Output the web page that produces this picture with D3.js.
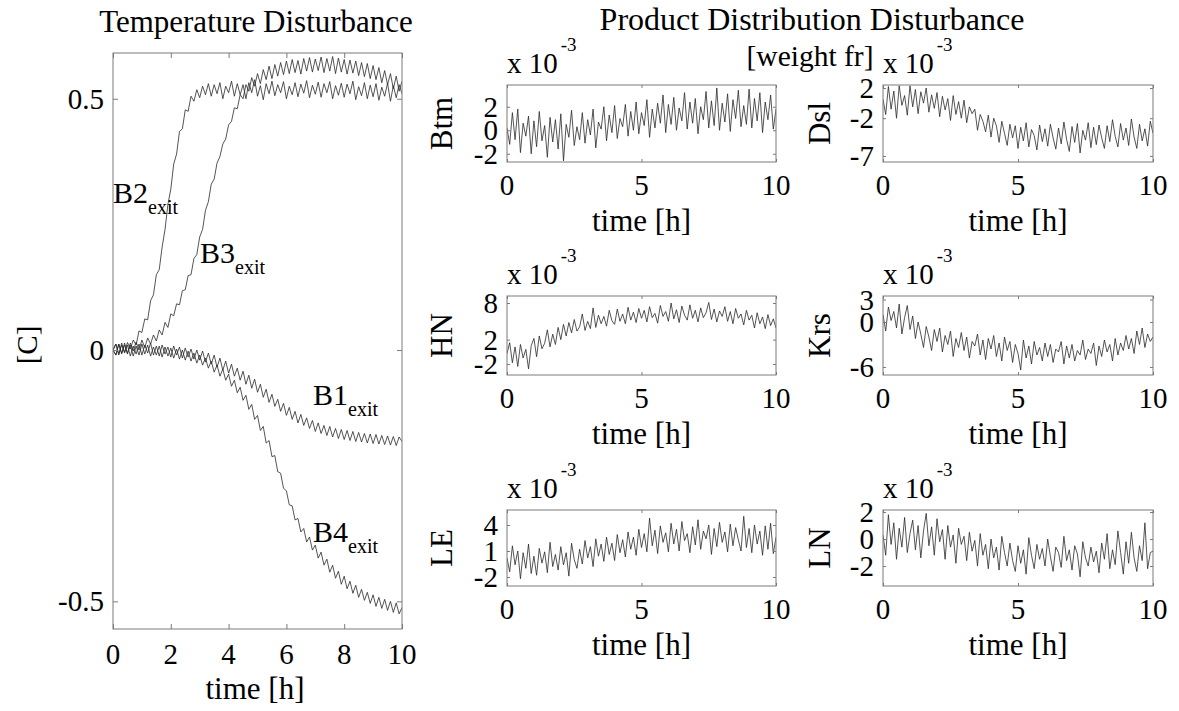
<!DOCTYPE html>
<html><head><meta charset="utf-8">
<script src="https://cdn.jsdelivr.net/npm/d3@7"></script>
<style>
html,body{margin:0;padding:0;background:#fff;}
svg{display:block;}
text{font-family:"Liberation Serif","Times New Roman",serif;fill:#000;}
</style></head>
<body>
<svg id="chart" width="1179" height="711"></svg>
<script>
// ---------- DATA ----------
const time = d3.range(101).map(i => i / 10); // sample times [h], 0..10 step 0.1

const xTicksLeft = [0, 2, 4, 6, 8, 10];
const yTicksLeft = [-0.5, 0, 0.5];
const xTicksSmall = [0, 5, 10];

const B1exit = [0.000,0.012,-0.010,0.014,-0.006,0.010,-0.012,0.008,-0.008,0.012,
-0.010,0.010,-0.006,0.014,-0.010,0.008,-0.012,0.010,-0.008,0.006,
-0.014,0.008,-0.010,0.006,-0.016,0.004,-0.014,0.002,-0.018,0.000,
-0.020,-0.002,-0.024,-0.006,-0.028,-0.010,-0.034,-0.016,-0.040,-0.022,
-0.046,-0.028,-0.052,-0.036,-0.060,-0.042,-0.068,-0.050,-0.076,-0.058,
-0.084,-0.068,-0.094,-0.078,-0.104,-0.088,-0.112,-0.098,-0.122,-0.106,
-0.130,-0.114,-0.138,-0.122,-0.145,-0.128,-0.150,-0.135,-0.156,-0.140,
-0.162,-0.145,-0.166,-0.150,-0.170,-0.152,-0.173,-0.156,-0.176,-0.158,
-0.178,-0.160,-0.180,-0.162,-0.182,-0.164,-0.183,-0.166,-0.185,-0.167,
-0.186,-0.168,-0.187,-0.170,-0.188,-0.171,-0.189,-0.172,-0.190,-0.173,-0.182];

const B2exit = [0.000,0.012,-0.008,0.010,-0.004,0.015,0.002,0.020,0.010,0.038,
0.035,0.062,0.060,0.098,0.110,0.150,0.160,0.205,0.240,0.290,
0.320,0.370,0.390,0.435,0.440,0.478,0.475,0.505,0.495,0.518,
0.502,0.525,0.508,0.530,0.505,0.528,0.510,0.532,0.500,0.525,
0.512,0.535,0.505,0.530,0.508,0.528,0.500,0.532,0.512,0.538,
0.505,0.526,0.498,0.530,0.510,0.535,0.506,0.528,0.512,0.534,
0.500,0.525,0.508,0.532,0.504,0.529,0.511,0.536,0.502,0.527,
0.509,0.533,0.503,0.530,0.512,0.534,0.500,0.526,0.507,0.531,
0.503,0.529,0.510,0.535,0.498,0.524,0.506,0.532,0.500,0.527,
0.504,0.530,0.497,0.523,0.505,0.531,0.495,0.526,0.502,0.528,0.510];

const B3exit = [0.000,-0.010,0.012,-0.006,0.010,-0.008,0.014,-0.002,0.016,0.000,
0.020,0.005,0.024,0.012,0.030,0.018,0.040,0.030,0.055,0.045,
0.072,0.068,0.092,0.090,0.118,0.120,0.148,0.150,0.182,0.190,
0.225,0.240,0.278,0.295,0.330,0.340,0.372,0.385,0.410,0.420,
0.448,0.455,0.482,0.480,0.508,0.500,0.528,0.515,0.542,0.525,
0.550,0.530,0.558,0.538,0.565,0.540,0.568,0.545,0.572,0.548,
0.575,0.550,0.578,0.552,0.576,0.549,0.580,0.555,0.582,0.553,
0.579,0.556,0.583,0.552,0.580,0.555,0.584,0.550,0.581,0.553,
0.578,0.549,0.577,0.551,0.575,0.546,0.572,0.544,0.570,0.540,
0.566,0.538,0.562,0.532,0.556,0.528,0.550,0.520,0.545,0.515,0.535];

const B4exit = [0.000,-0.010,0.012,-0.008,0.014,-0.006,0.010,-0.012,0.008,-0.010,
0.012,-0.008,0.010,-0.012,0.006,-0.010,0.008,-0.014,0.006,-0.012,
0.004,-0.016,0.002,-0.018,0.000,-0.020,-0.002,-0.022,-0.006,-0.026,
-0.010,-0.030,-0.016,-0.036,-0.022,-0.044,-0.030,-0.052,-0.038,-0.060,
-0.048,-0.072,-0.060,-0.085,-0.074,-0.100,-0.090,-0.118,-0.108,-0.138,
-0.130,-0.160,-0.152,-0.185,-0.180,-0.212,-0.210,-0.242,-0.245,-0.275,
-0.280,-0.308,-0.310,-0.338,-0.335,-0.362,-0.355,-0.382,-0.372,-0.398,
-0.388,-0.414,-0.402,-0.428,-0.416,-0.442,-0.428,-0.454,-0.440,-0.466,
-0.450,-0.475,-0.460,-0.484,-0.468,-0.492,-0.476,-0.498,-0.482,-0.504,
-0.487,-0.510,-0.492,-0.514,-0.496,-0.518,-0.500,-0.522,-0.503,-0.525,-0.512];

// product distribution disturbances, in units of 1e-3 weight fraction
const Btm = [0.2,-1.2,1.5,-0.8,1.8,-1.9,0.6,-0.5,1.2,-2.0,
0.8,-1.4,1.6,-0.9,0.4,-2.3,1.1,-1.0,0.9,-1.6,
1.4,-2.6,0.5,-0.6,1.7,-1.3,0.3,-0.8,1.5,-1.1,
0.9,-0.4,1.8,-1.5,0.7,0.1,2.0,-0.9,1.3,-0.2,
2.1,-0.7,1.0,0.3,2.2,-0.5,1.6,0.0,2.4,-0.3,
1.5,0.4,2.6,-0.6,1.8,0.2,2.3,0.6,3.0,-0.2,
2.2,0.5,2.8,0.0,1.9,0.8,3.2,0.1,2.4,0.6,
2.7,-0.3,2.0,0.9,3.3,0.2,2.5,0.4,3.6,0.0,
2.3,0.7,3.1,-0.1,2.6,1.0,3.4,0.3,2.1,0.5,
3.5,0.2,2.7,0.8,3.2,-0.2,2.4,0.9,3.0,0.1,1.8];

const Dsl = [0.5,-1.5,2.2,-0.8,1.6,-2.0,2.3,-0.3,1.0,-1.6,
2.3,-0.5,1.8,-1.4,1.5,0.0,2.0,-1.2,1.1,-0.7,
1.4,-1.8,0.9,-0.9,0.6,-2.3,1.0,-1.5,0.2,-2.0,
0.4,-2.6,-0.5,-1.4,-0.8,-3.6,-1.5,-2.4,-3.8,-1.6,
-4.5,-2.0,-3.0,-5.2,-2.4,-4.0,-5.6,-2.8,-4.6,-3.0,
-6.0,-3.2,-5.0,-2.6,-5.8,-3.5,-4.3,-6.2,-2.9,-5.1,
-3.4,-5.7,-2.8,-4.6,-6.1,-3.3,-5.4,-2.5,-4.8,-6.4,
-3.1,-5.2,-2.7,-6.6,-3.6,-4.9,-2.6,-5.9,-3.2,-5.5,
-2.9,-4.6,-6.0,-3.0,-5.1,-2.2,-4.4,-5.8,-2.7,-4.9,
-3.3,-5.6,-2.1,-4.5,-6.0,-2.8,-5.0,-3.4,-5.7,-2.4,-4.0];

const HN = [-0.3,1.5,-1.8,0.8,-2.4,1.2,-1.0,0.4,-2.8,1.0,
2.2,-0.8,2.6,0.5,1.4,3.6,0.8,2.9,1.2,4.0,
2.0,4.5,2.6,4.8,3.1,5.3,3.4,4.1,6.2,3.5,
5.0,3.8,7.2,4.0,6.0,4.6,5.8,4.2,6.8,5.1,
4.5,7.0,5.0,6.2,4.6,7.3,5.2,6.5,4.8,7.1,
5.5,6.8,4.9,7.4,5.6,6.3,4.7,7.6,5.8,6.6,
5.0,8.0,5.4,6.9,4.8,7.5,6.0,5.2,7.7,5.5,
6.8,4.9,7.2,5.6,6.4,8.1,5.3,7.0,4.9,6.7,
5.8,7.4,5.0,6.6,4.6,7.1,5.5,6.2,4.4,6.8,
5.2,6.0,3.9,6.4,4.6,5.7,3.8,6.1,4.3,5.4,3.9];

const Krs = [1.0,-1.2,2.0,0.2,1.4,-0.8,2.4,-1.6,0.6,2.2,
-1.0,0.8,-2.2,0.0,-1.6,-3.4,-0.6,-2.0,-3.8,-1.0,
-2.6,-0.8,-4.0,-1.8,-3.0,-1.2,-4.6,-2.2,-3.4,-1.4,
-3.8,-2.0,-4.8,-2.6,-3.2,-1.6,-4.4,-2.4,-5.0,-2.2,
-3.6,-1.8,-4.6,-2.8,-5.2,-2.0,-3.8,-2.6,-5.4,-3.0,
-4.2,-6.4,-2.4,-4.8,-3.2,-5.6,-2.6,-4.4,-3.4,-5.2,
-2.8,-4.6,-3.0,-5.4,-3.6,-4.0,-2.6,-5.6,-3.2,-4.8,
-3.0,-5.2,-3.8,-4.4,-2.4,-5.0,-3.6,-4.2,-2.8,-5.8,
-3.2,-4.6,-2.4,-4.0,-3.0,-5.2,-2.2,-4.4,-2.8,-3.8,
-1.8,-3.6,-2.2,-4.2,-1.2,-3.0,-0.8,-3.4,-1.6,-2.6,-2.0];

const LE = [0.2,-1.4,1.6,-0.6,1.0,-2.2,0.8,-1.0,1.8,-1.6,
0.4,-1.8,1.3,-0.4,0.9,-1.5,2.0,-0.8,0.6,-1.2,
1.5,-0.6,0.8,-1.9,1.9,0.0,-1.0,1.2,-0.5,2.2,
0.2,1.5,-0.8,2.4,0.4,1.8,-0.2,2.6,0.6,1.9,
-0.1,2.9,0.8,2.3,0.3,3.2,1.2,2.6,0.5,3.5,
1.4,3.0,0.9,4.8,1.6,3.4,0.7,3.9,2.0,3.1,
0.9,4.2,1.8,3.5,1.0,4.4,2.2,3.0,0.8,3.8,
1.7,4.6,1.2,3.3,2.4,4.0,0.6,3.6,1.5,4.3,
2.0,3.2,0.9,4.1,1.6,3.7,2.3,1.0,5.0,1.4,
3.6,0.8,4.0,1.8,3.3,0.5,3.9,1.2,4.2,0.7,2.6];

const LN = [0.3,-1.2,1.8,-0.4,1.2,-1.5,0.8,-0.6,1.6,-1.0,
0.4,1.4,-0.8,1.0,-1.4,0.6,1.9,-0.5,0.9,-1.2,
1.5,-0.2,0.7,-1.5,1.0,-0.6,0.3,-1.8,0.8,-0.4,
0.2,-1.6,0.5,-0.9,-0.1,-2.0,0.4,-1.2,-0.4,-2.2,
0.0,-1.4,-0.6,-2.3,0.2,-1.0,-2.0,-0.3,-1.6,-2.4,
-0.5,-1.8,-0.8,-2.6,0.1,-1.2,-2.2,-0.4,-1.5,-0.7,
-2.0,0.0,-1.3,-2.4,-0.6,-1.0,-2.1,0.2,-1.6,-0.8,
-2.3,-0.5,-1.1,-2.8,-0.2,-1.4,-2.0,-0.6,-1.7,-0.9,
-2.5,-0.3,-1.5,0.4,-2.2,-0.8,-1.9,0.6,-1.0,-2.6,
-0.2,-1.8,0.5,-1.4,-2.4,-0.5,-1.6,1.2,-2.2,-1.0,-0.9];

const smallNames = ["Btm", "Dsl", "HN", "Krs", "LE", "LN"];
const smallSeries = [Btm, Dsl, HN, Krs, LE, LN];
const smallYTicks = [[-2, 0, 2], [-7, -2, 2], [-2, 2, 8], [-6, 0, 3], [-2, 1, 4], [-2, 0, 2]];
const smallYDomains = [[-2.7, 3.85], [-7.8, 2.4], [-3.8, 9.15], [-7.07, 3.47], [-3.04, 5.73], [-3.48, 2.15]];

// ---------- LAYOUT ----------
const svg = d3.select("#chart");
const FS = 29;      // tick labels
const FL = 31;      // axis labels / titles
const boxColor = "#7a7a7a";
const lineColor = "#2a2a2a";

function drawAxesBox(g, x, y, xTicks, yTicks, tickLen) {
  const [x0, x1] = x.range();
  const [y0, y1] = y.range(); // y0 bottom, y1 top
  g.append("rect").attr("x", x0).attr("y", y1).attr("width", x1 - x0).attr("height", y0 - y1)
    .attr("fill", "none").attr("stroke", boxColor).attr("stroke-width", 1);
  const xb = d3.axisBottom(x).tickValues(xTicks).tickSize(-tickLen).tickFormat("");
  const xt = d3.axisTop(x).tickValues(xTicks).tickSize(-tickLen).tickFormat("");
  const yl = d3.axisLeft(y).tickValues(yTicks).tickSize(-tickLen).tickFormat("");
  const yr = d3.axisRight(y).tickValues(yTicks).tickSize(-tickLen).tickFormat("");
  [[xb, `translate(0,${y0})`], [xt, `translate(0,${y1})`], [yl, `translate(${x0},0)`], [yr, `translate(${x1},0)`]]
    .forEach(([ax, tr]) => {
      const a = g.append("g").attr("transform", tr).call(ax);
      a.select(".domain").remove();
      a.selectAll("line").attr("stroke", boxColor);
    });
}

function drawSeries(g, x, y, values, width) {
  const line = d3.line().x((d, i) => x(time[i])).y(d => y(d));
  g.append("path").datum(values).attr("d", line)
    .attr("fill", "none").attr("stroke", lineColor).attr("stroke-width", width);
}

// ----- left plot -----
{
  const g = svg.append("g");
  const x = d3.scaleLinear().domain([0, 10]).range([113, 402]);
  const y = d3.scaleLinear().domain([-0.555, 0.591]).range([629, 53]);
  svg.append("clipPath").attr("id", "clipL").append("rect")
    .attr("x", 113).attr("y", 53).attr("width", 289).attr("height", 576);
  const cg = g.append("g").attr("clip-path", "url(#clipL)");
  [B1exit, B2exit, B3exit, B4exit].forEach(s => drawSeries(cg, x, y, s, 0.8));
  drawAxesBox(g, x, y, xTicksLeft, yTicksLeft, 5);

  g.selectAll(".xl").data(xTicksLeft).join("text")
    .attr("x", d => x(d)).attr("y", 664).attr("text-anchor", "middle")
    .attr("font-size", FS).text(d => d);
  g.selectAll(".yl").data(yTicksLeft).join("text")
    .attr("x", 104).attr("y", d => y(d)).attr("text-anchor", "end")
    .attr("dominant-baseline", "central").attr("font-size", FS).text(d => d);
  g.append("text").attr("x", 255).attr("y", 699).attr("text-anchor", "middle")
    .attr("font-size", FL).text("time [h]");
  g.append("text").attr("transform", "translate(27,345) rotate(-90)")
    .attr("text-anchor", "middle").attr("dominant-baseline", "central")
    .attr("font-size", FS).text("[C]");
  g.append("text").attr("x", 256).attr("y", 32).attr("text-anchor", "middle")
    .attr("font-size", FL).text("Temperature Disturbance");

  const labels = [
    {name: "B2", x: 113, y: 203},
    {name: "B3", x: 200, y: 263},
    {name: "B1", x: 313, y: 405},
    {name: "B4", x: 313, y: 542}
  ];
  labels.forEach(l => {
    const t = g.append("text").attr("x", l.x).attr("y", l.y).attr("font-size", 30);
    t.append("tspan").text(l.name);
    t.append("tspan").attr("font-size", 20).attr("dy", 11).text("exit");
  });
}

// ----- small plots -----
svg.append("text").attr("x", 812).attr("y", 30).attr("text-anchor", "middle")
  .attr("font-size", 32).text("Product Distribution Disturbance");
svg.append("text").attr("x", 810).attr("y", 66).attr("text-anchor", "middle")
  .attr("font-size", 29.5).text("[weight fr]");

const cols = [[507, 776], [883, 1153]];
const rows = [[85, 162], [296, 375], [510, 586]];
const ylabX = [441, 819];

smallNames.forEach((name, k) => {
  const c = cols[k % 2], r = rows[Math.floor(k / 2)];
  const g = svg.append("g");
  const x = d3.scaleLinear().domain([0, 10]).range(c);
  const y = d3.scaleLinear().domain(smallYDomains[k]).range([r[1], r[0]]);
  const clipId = "clip" + k;
  svg.append("clipPath").attr("id", clipId).append("rect")
    .attr("x", c[0]).attr("y", r[0]).attr("width", c[1] - c[0]).attr("height", r[1] - r[0]);
  drawSeries(g.append("g").attr("clip-path", `url(#${clipId})`), x, y, smallSeries[k], 0.8);
  drawAxesBox(g, x, y, xTicksSmall, smallYTicks[k], 3);

  g.selectAll(".xl").data(xTicksSmall).join("text")
    .attr("x", d => x(d)).attr("y", r[1] + 33).attr("text-anchor", "middle")
    .attr("font-size", FS).text(d => d);
  g.selectAll(".yl").data(smallYTicks[k]).join("text")
    .attr("x", c[0] - 9).attr("y", d => y(d)).attr("text-anchor", "end")
    .attr("dominant-baseline", "central").attr("font-size", FS).text(d => d);
  g.append("text").attr("x", (c[0] + c[1]) / 2).attr("y", r[1] + 69).attr("text-anchor", "middle")
    .attr("font-size", FL).text("time [h]");
  g.append("text").attr("transform", `translate(${ylabX[k % 2]},${(r[0] + r[1]) / 2}) rotate(-90)`)
    .attr("text-anchor", "middle").attr("dominant-baseline", "central")
    .attr("font-size", FL).text(name);
  const e = g.append("text").attr("x", c[0]).attr("y", r[0] - 12).attr("font-size", FS);
  e.append("tspan").text("x 10");
  e.append("tspan").attr("font-size", 19).attr("dy", -22).attr("dx", 3).text("-3");
});
</script>
</body></html>
